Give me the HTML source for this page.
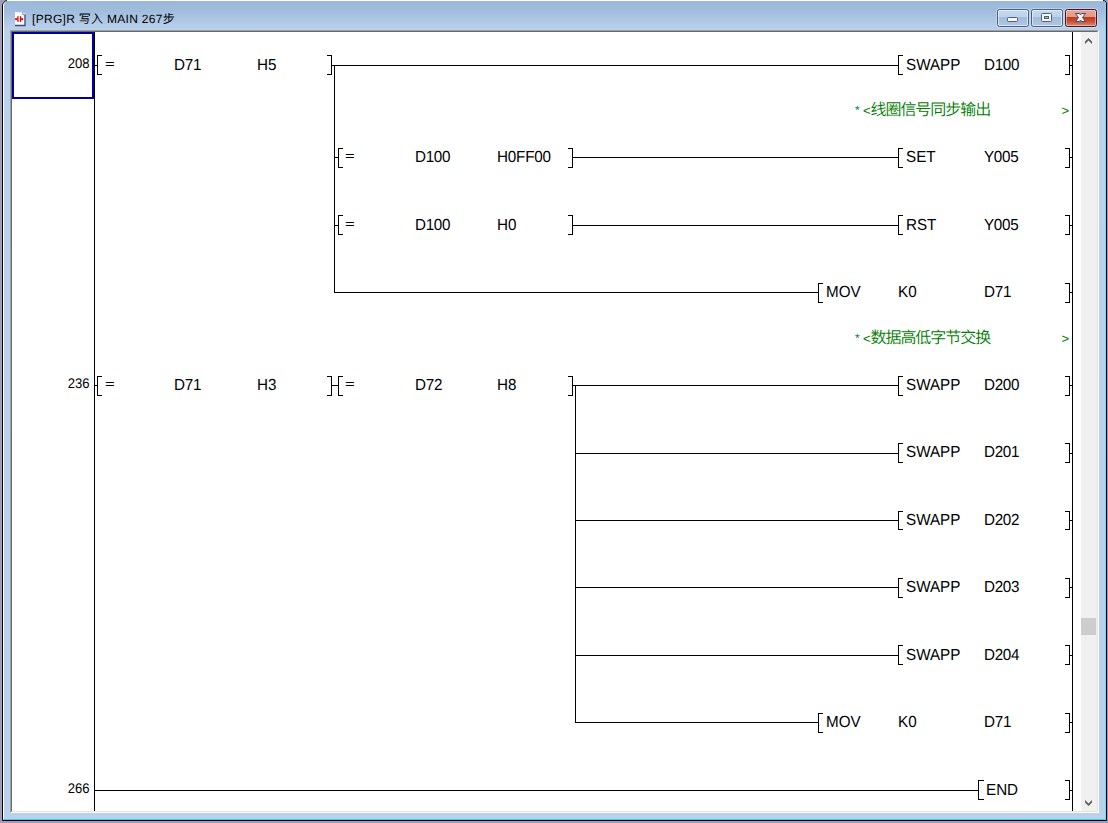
<!DOCTYPE html>
<html lang="zh"><head><meta charset="utf-8"><title>[PRG]R 写入 MAIN 267步</title>
<style>
html,body{margin:0;padding:0}
body{text-rendering:geometricPrecision;width:1108px;height:823px;overflow:hidden;background:#9e9eba;position:relative;font-family:"Liberation Sans","Noto Sans CJK SC",sans-serif}
#top{position:absolute;left:7px;top:0;width:1096px;height:1px;background:#fff}
#win{position:absolute;left:2px;top:0;width:1105px;height:821px;box-sizing:border-box;background:linear-gradient(#9bb8da 0,#9fbbdc 8px,#b4cce8 24px,#bbd2ec 30px,#b9d1ea 100%);border:1px solid #000;border-radius:6px 4px 0 0}
#hl{position:absolute;left:3px;top:1px;width:1103px;height:819px;box-sizing:border-box;border-left:1px solid #fff;border-right:1px solid #6fdcff;border-bottom:1px solid #35d6f5;border-radius:5px 3px 0 0}
#title{position:absolute;left:32px;top:11px;font-size:12px;letter-spacing:0.3px;line-height:16px;color:#000;white-space:nowrap}
#client{position:absolute;left:10px;top:30px;width:1089px;height:783px;box-sizing:border-box;background:#fff;border-top:1px solid #a0a0a0;border-left:1px solid #a0a0a0;border-right:1px solid #fff;border-bottom:1px solid #fff}
#client2{position:absolute;left:11px;top:31px;width:1087px;height:781px;box-sizing:border-box;border-top:1px solid #696969;border-left:1px solid #696969;border-right:1px solid #e3e3e3;border-bottom:1px solid #e3e3e3}
#sb{position:absolute;left:1081px;top:32px;width:16px;height:779px;background:#f0f0f0}
#thumb{position:absolute;left:1081px;top:618px;width:15px;height:17px;background:#cdcdcd}
#sel{position:absolute;left:12px;top:32px;width:82px;height:67px;box-sizing:border-box;border:2px solid #0000a0}
svg.l{position:absolute;left:0;top:0}
.t{position:absolute;font-size:16px;transform:scaleX(.95);transform-origin:0 0;line-height:17px;color:#000;white-space:nowrap}
.e{font-size:12px;margin-top:-1px;transform:scaleX(1.38);text-rendering:auto}
.n{position:absolute;left:40px;width:49.600px;text-align:right;font-size:14px;transform:scaleX(.935);transform-origin:100% 0;line-height:15px;color:#000}
.c{position:absolute;color:#007c00;white-space:nowrap;font-size:15px;line-height:17px}
.cj{font-weight:350;font-size:16px;letter-spacing:-1.05px}
.cl{font-size:13px}
.ca{font-size:12px;color:#008060}
.btn{position:absolute;top:9px;width:32px;height:18px;box-sizing:border-box;border:1px solid #4d5f80;border-radius:2.500px;background:linear-gradient(#c3d8f0 0,#bdd3ec 44%,#a2bddc 46%,#adc6e3 100%);box-shadow:inset 0 0 0 1px rgba(255,255,255,.55),0 0 0 1px rgba(205,228,250,.55)}
#bx{border-color:#47142a;background:linear-gradient(#e9a596 0,#e39887 44%,#bf3c1f 46%,#c4492d 65%,#d88670 100%);box-shadow:inset 0 0 0 1px rgba(255,225,215,.5),0 0 0 1px rgba(205,228,250,.55)}
</style></head><body>
<div id="win"></div><div id="hl"></div><div id="top"></div>
<svg class="l" width="40" height="30" viewBox="0 0 40 30" style="left:0;top:0">
<path d="M15 12h8l2.500 2.500v11h-10.500z" fill="#fdfdfd"/>
<path d="M25 14.500v11h-10" fill="none" stroke="#38507a" stroke-width="1.400"/>
<path d="M15.200 12.300h7.600" fill="none" stroke="#c9d6e6" stroke-width=".6"/>
<path d="M22.800 12v2.700h2.600" fill="#e9eef5" stroke="#6b7f9e" stroke-width=".8"/>
<g fill="#e60000"><rect x="15.100" y="18.200" width="2.300" height="1.900"/><rect x="17.300" y="16.200" width="1.300" height="5.700"/><rect x="19.900" y="16.200" width="1.300" height="5.700"/><rect x="21.100" y="18.200" width="2" height="1.900"/></g>
</svg>
<div id="title">[PRG]R 写入 MAIN 267步</div>
<div class="btn" style="left:997px"></div><div class="btn" style="left:1031px"></div><div class="btn" id="bx" style="left:1065px"></div>
<svg class="l" width="1108" height="30" viewBox="0 0 1108 30">
<rect x="1007.500" y="17.500" width="10" height="4" rx="1" fill="#f6f6f6" stroke="#4f5d78" stroke-width="1"/>
<rect x="1041.500" y="13.500" width="10" height="8" rx="1" fill="#f6f6f6" stroke="#4f5d78" stroke-width="1"/>
<rect x="1044.500" y="16.500" width="4" height="2" fill="#9dbbe0" stroke="#4f5d78" stroke-width="1"/>
<path d="M1075.500 13.500h4l1 1.500 1-1.500h4l-3 4 3 4h-4l-1-1.500-1 1.500h-4l3-4z" fill="#f8f8f8" stroke="#414c68" stroke-width="1" stroke-linejoin="round"/>
</svg>
<div id="client"></div><div id="client2"></div>
<div id="sb"></div><div id="thumb"></div>
<svg class="l" width="1108" height="823" viewBox="0 0 1108 823">
<path d="M1085 44v-2.500l3.500-3.500 3.500 3.500v2.500l-3.500-3.500z" fill="#5c5c5c"/>
<path d="M1085 800v2.500l3.500 3.500 3.500-3.500v-2.500l-3.500 3.500z" fill="#5c5c5c"/>
<g fill="#000" shape-rendering="crispEdges"><rect x="94" y="32" width="1" height="779"/><rect x="1072" y="32" width="1" height="779"/><rect x="95" y="65" width="2" height="1"/><rect x="97" y="55" width="1" height="20"/><rect x="97" y="55" width="5" height="1"/><rect x="97" y="74" width="5" height="1"/><rect x="331" y="55" width="1" height="20"/><rect x="327" y="55" width="5" height="1"/><rect x="327" y="74" width="5" height="1"/><rect x="332" y="65" width="2" height="1"/><rect x="334" y="65" width="564" height="1"/><rect x="898" y="55" width="1" height="20"/><rect x="898" y="55" width="5" height="1"/><rect x="898" y="74" width="5" height="1"/><rect x="1069" y="55" width="1" height="20"/><rect x="1065" y="55" width="5" height="1"/><rect x="1065" y="74" width="5" height="1"/><rect x="1070" y="65" width="2" height="1"/><rect x="334" y="65" width="1" height="228"/><rect x="335" y="157" width="1" height="1"/><rect x="336" y="157" width="2" height="1"/><rect x="338" y="148" width="1" height="20"/><rect x="338" y="148" width="5" height="1"/><rect x="338" y="167" width="5" height="1"/><rect x="572" y="148" width="1" height="20"/><rect x="568" y="148" width="5" height="1"/><rect x="568" y="167" width="5" height="1"/><rect x="573" y="157" width="2" height="1"/><rect x="574" y="157" width="324" height="1"/><rect x="898" y="148" width="1" height="20"/><rect x="898" y="148" width="5" height="1"/><rect x="898" y="167" width="5" height="1"/><rect x="1069" y="148" width="1" height="20"/><rect x="1065" y="148" width="5" height="1"/><rect x="1065" y="167" width="5" height="1"/><rect x="1070" y="157" width="2" height="1"/><rect x="335" y="225" width="1" height="1"/><rect x="336" y="225" width="2" height="1"/><rect x="338" y="215" width="1" height="20"/><rect x="338" y="215" width="5" height="1"/><rect x="338" y="234" width="5" height="1"/><rect x="572" y="215" width="1" height="20"/><rect x="568" y="215" width="5" height="1"/><rect x="568" y="234" width="5" height="1"/><rect x="573" y="225" width="2" height="1"/><rect x="574" y="225" width="324" height="1"/><rect x="898" y="215" width="1" height="20"/><rect x="898" y="215" width="5" height="1"/><rect x="898" y="234" width="5" height="1"/><rect x="1069" y="215" width="1" height="20"/><rect x="1065" y="215" width="5" height="1"/><rect x="1065" y="234" width="5" height="1"/><rect x="1070" y="225" width="2" height="1"/><rect x="334" y="292" width="484" height="1"/><rect x="818" y="283" width="1" height="20"/><rect x="818" y="283" width="5" height="1"/><rect x="818" y="302" width="5" height="1"/><rect x="1069" y="283" width="1" height="20"/><rect x="1065" y="283" width="5" height="1"/><rect x="1065" y="302" width="5" height="1"/><rect x="1070" y="292" width="2" height="1"/><rect x="95" y="385" width="2" height="1"/><rect x="97" y="376" width="1" height="20"/><rect x="97" y="376" width="5" height="1"/><rect x="97" y="395" width="5" height="1"/><rect x="331" y="376" width="1" height="20"/><rect x="327" y="376" width="5" height="1"/><rect x="327" y="395" width="5" height="1"/><rect x="332" y="385" width="2" height="1"/><rect x="334" y="385" width="3" height="1"/><rect x="336" y="385" width="2" height="1"/><rect x="338" y="376" width="1" height="20"/><rect x="338" y="376" width="5" height="1"/><rect x="338" y="395" width="5" height="1"/><rect x="572" y="376" width="1" height="20"/><rect x="568" y="376" width="5" height="1"/><rect x="568" y="395" width="5" height="1"/><rect x="573" y="385" width="2" height="1"/><rect x="574" y="385" width="324" height="1"/><rect x="898" y="376" width="1" height="20"/><rect x="898" y="376" width="5" height="1"/><rect x="898" y="395" width="5" height="1"/><rect x="1069" y="376" width="1" height="20"/><rect x="1065" y="376" width="5" height="1"/><rect x="1065" y="395" width="5" height="1"/><rect x="1070" y="385" width="2" height="1"/><rect x="575" y="385" width="1" height="338"/><rect x="575" y="453" width="323" height="1"/><rect x="898" y="443" width="1" height="20"/><rect x="898" y="443" width="5" height="1"/><rect x="898" y="462" width="5" height="1"/><rect x="1069" y="443" width="1" height="20"/><rect x="1065" y="443" width="5" height="1"/><rect x="1065" y="462" width="5" height="1"/><rect x="1070" y="453" width="2" height="1"/><rect x="575" y="520" width="323" height="1"/><rect x="898" y="511" width="1" height="19"/><rect x="898" y="511" width="5" height="1"/><rect x="898" y="529" width="5" height="1"/><rect x="1069" y="511" width="1" height="19"/><rect x="1065" y="511" width="5" height="1"/><rect x="1065" y="529" width="5" height="1"/><rect x="1070" y="520" width="2" height="1"/><rect x="575" y="587" width="323" height="1"/><rect x="898" y="578" width="1" height="20"/><rect x="898" y="578" width="5" height="1"/><rect x="898" y="597" width="5" height="1"/><rect x="1069" y="578" width="1" height="20"/><rect x="1065" y="578" width="5" height="1"/><rect x="1065" y="597" width="5" height="1"/><rect x="1070" y="587" width="2" height="1"/><rect x="575" y="655" width="323" height="1"/><rect x="898" y="645" width="1" height="20"/><rect x="898" y="645" width="5" height="1"/><rect x="898" y="664" width="5" height="1"/><rect x="1069" y="645" width="1" height="20"/><rect x="1065" y="645" width="5" height="1"/><rect x="1065" y="664" width="5" height="1"/><rect x="1070" y="655" width="2" height="1"/><rect x="575" y="722" width="243" height="1"/><rect x="818" y="713" width="1" height="20"/><rect x="818" y="713" width="5" height="1"/><rect x="818" y="732" width="5" height="1"/><rect x="1069" y="713" width="1" height="20"/><rect x="1065" y="713" width="5" height="1"/><rect x="1065" y="732" width="5" height="1"/><rect x="1070" y="722" width="2" height="1"/><rect x="95" y="790" width="883" height="1"/><rect x="978" y="780" width="1" height="20"/><rect x="978" y="780" width="5" height="1"/><rect x="978" y="799" width="5" height="1"/><rect x="978" y="780" width="6" height="1"/><rect x="978" y="799" width="6" height="1"/><rect x="1069" y="780" width="1" height="20"/><rect x="1065" y="780" width="5" height="1"/><rect x="1065" y="799" width="5" height="1"/><rect x="1070" y="790" width="2" height="1"/></g>
</svg>
<div id="sel"></div>
<span class="n" style="top:56px">208</span>
<span class="n" style="top:376px">236</span>
<span class="n" style="top:781px">266</span>
<span class="t e" style="left:105.3px;top:57px">=</span>
<span class="t" style="left:174px;top:57px;letter-spacing:-0.23px">D71</span>
<span class="t" style="left:257px;top:57px">H5</span>
<span class="t" style="left:906px;top:57px">SWAPP</span>
<span class="t" style="left:984px;top:57px;letter-spacing:-0.30px">D100</span>
<span class="t e" style="left:345.3px;top:149px">=</span>
<span class="t" style="left:415px;top:149px;letter-spacing:-0.30px">D100</span>
<span class="t" style="left:497.3px;top:149px;letter-spacing:-0.18px">H0FF00</span>
<span class="t" style="left:906px;top:149px">SET</span>
<span class="t" style="left:984px;top:149px;letter-spacing:-0.30px">Y005</span>
<span class="t e" style="left:345.3px;top:217px">=</span>
<span class="t" style="left:415px;top:217px;letter-spacing:-0.30px">D100</span>
<span class="t" style="left:497.3px;top:217px">H0</span>
<span class="t" style="left:906px;top:217px">RST</span>
<span class="t" style="left:984px;top:217px;letter-spacing:-0.30px">Y005</span>
<span class="t" style="left:826px;top:284px">MOV</span>
<span class="t" style="left:898px;top:284px">K0</span>
<span class="t" style="left:984px;top:284px;letter-spacing:-0.23px">D71</span>
<span class="t e" style="left:105.3px;top:377px">=</span>
<span class="t" style="left:174px;top:377px;letter-spacing:-0.23px">D71</span>
<span class="t" style="left:257px;top:377px">H3</span>
<span class="t e" style="left:345.3px;top:377px">=</span>
<span class="t" style="left:415px;top:377px;letter-spacing:-0.23px">D72</span>
<span class="t" style="left:497.3px;top:377px">H8</span>
<span class="t" style="left:906px;top:377px">SWAPP</span>
<span class="t" style="left:984px;top:377px;letter-spacing:-0.30px">D200</span>
<span class="t" style="left:906px;top:444px">SWAPP</span>
<span class="t" style="left:984px;top:444px;letter-spacing:-0.30px">D201</span>
<span class="t" style="left:906px;top:512px">SWAPP</span>
<span class="t" style="left:984px;top:512px;letter-spacing:-0.30px">D202</span>
<span class="t" style="left:906px;top:579px">SWAPP</span>
<span class="t" style="left:984px;top:579px;letter-spacing:-0.30px">D203</span>
<span class="t" style="left:906px;top:647px">SWAPP</span>
<span class="t" style="left:984px;top:647px;letter-spacing:-0.30px">D204</span>
<span class="t" style="left:826px;top:714px">MOV</span>
<span class="t" style="left:898px;top:714px">K0</span>
<span class="t" style="left:984px;top:714px;letter-spacing:-0.23px">D71</span>
<span class="t" style="left:986px;top:782px">END</span>
<span class="c ca" style="left:855px;top:101.7px">*</span>
<span class="c cl" style="left:863px;top:101.5px">&lt;</span>
<span class="c cj" style="left:870.500px;top:102px">线圈信号同步输出</span>
<span class="c cl" style="left:1061.500px;top:101.5px">&gt;</span>
<span class="c ca" style="left:855px;top:329.7px">*</span>
<span class="c cl" style="left:863px;top:329.5px">&lt;</span>
<span class="c cj" style="left:870.500px;top:330px">数据高低字节交换</span>
<span class="c cl" style="left:1061.500px;top:329.5px">&gt;</span>

</body></html>
